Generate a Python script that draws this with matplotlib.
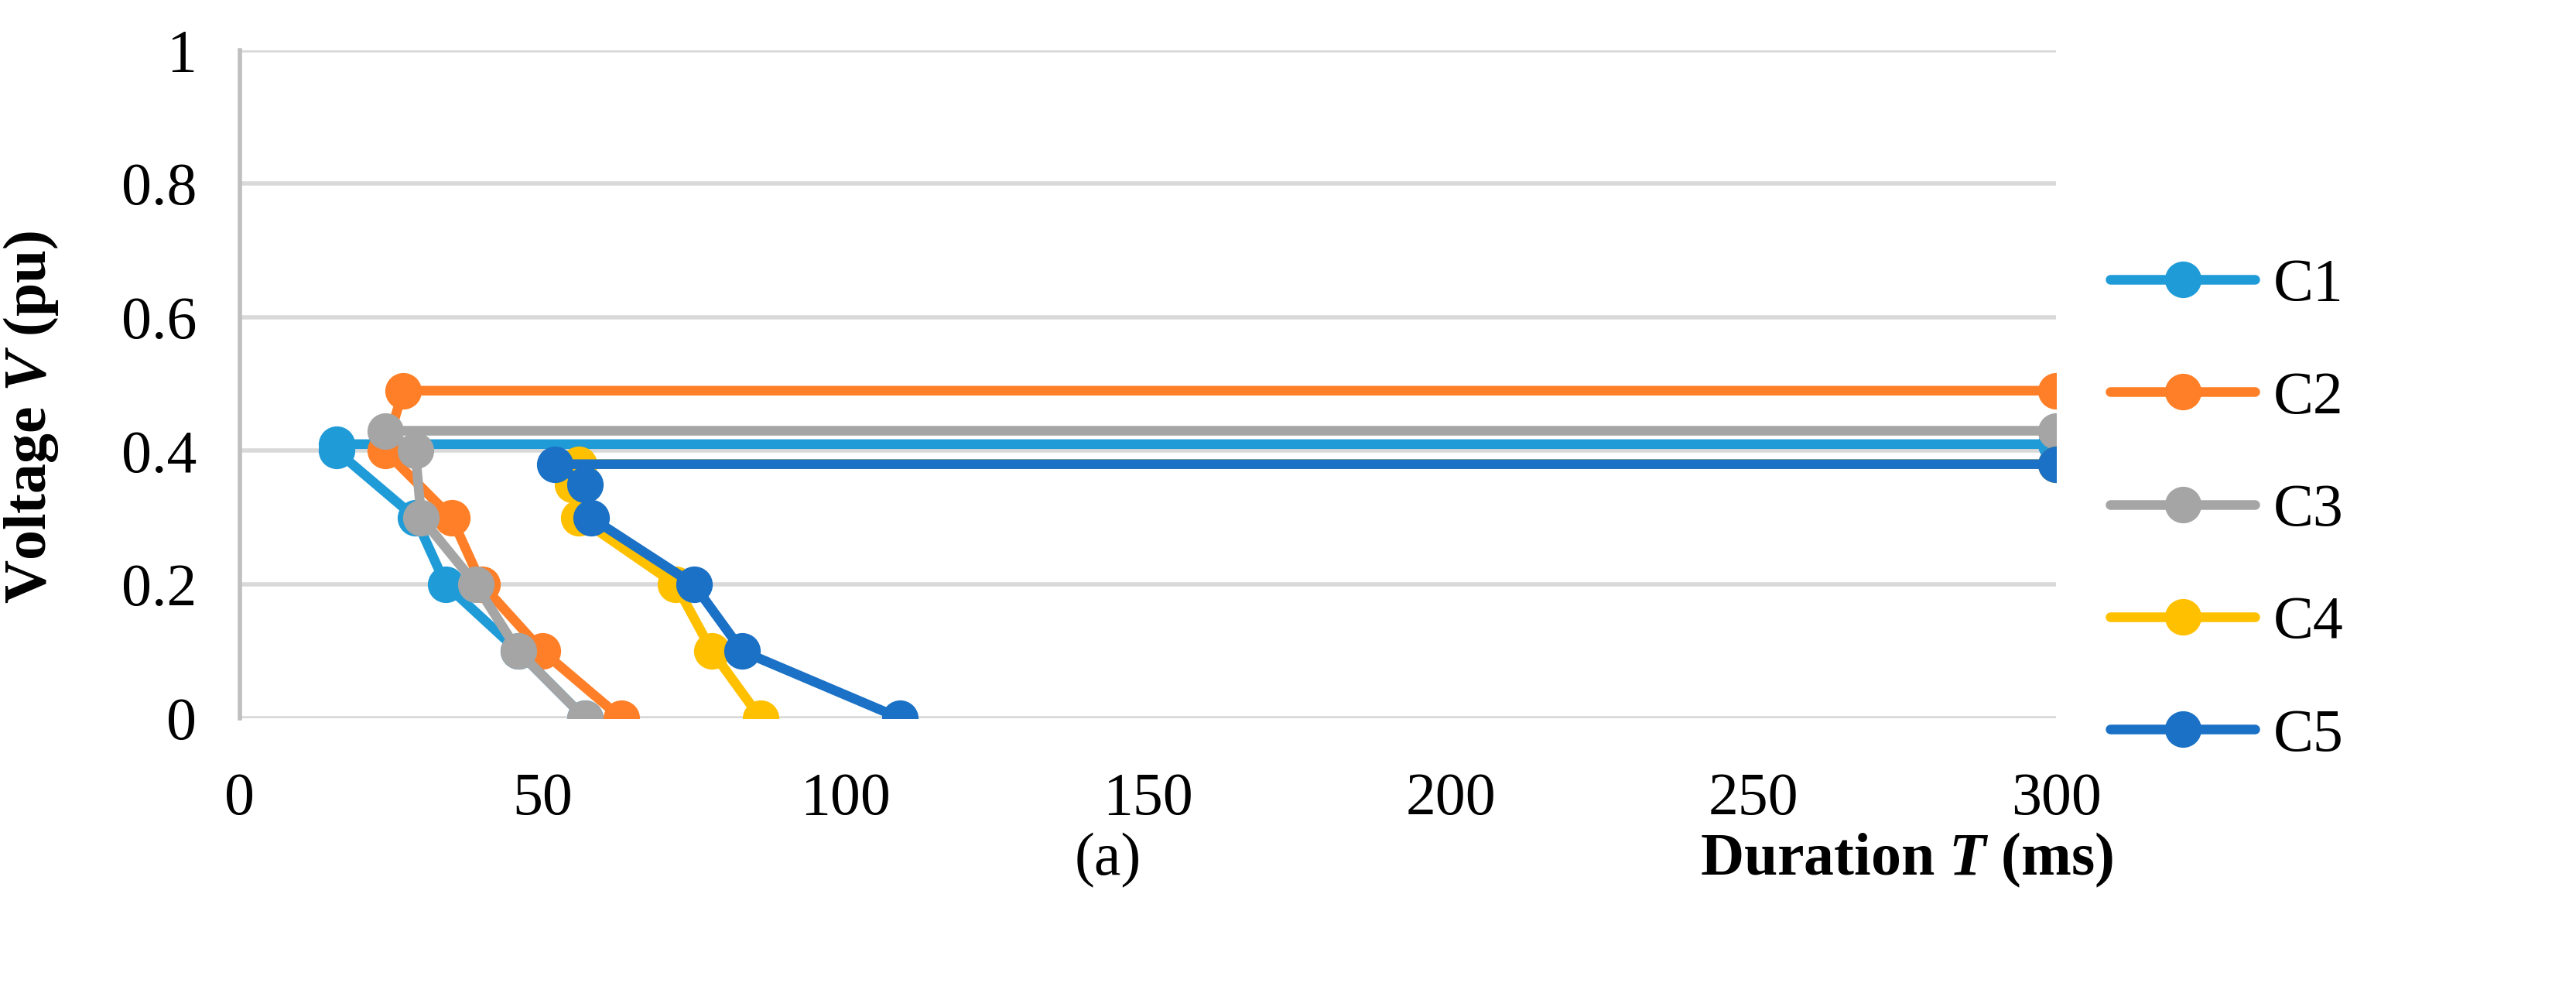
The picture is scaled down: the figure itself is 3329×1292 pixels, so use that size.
import matplotlib
matplotlib.use("Agg")
import matplotlib.pyplot as plt

names = ["C1", "C2", "C3", "C4", "C5"]
colors = ["#1f9bd7", "#fe7f27", "#a5a5a5", "#ffc000", "#1b71c6"]
c1_t = [57, 46, 34, 29, 16, 16, 300]; c1_v = [0, 0.1, 0.2, 0.3, 0.40, 0.41, 0.41]
c2_t = [63, 50, 40, 35, 24, 27, 300]; c2_v = [0, 0.1, 0.2, 0.3, 0.40, 0.49, 0.49]
c3_t = [57, 46, 39, 30, 29, 24, 300]; c3_v = [0, 0.1, 0.2, 0.3, 0.40, 0.43, 0.43]
c4_t = [86, 78, 72, 56, 55, 56, 300]; c4_v = [0, 0.1, 0.2, 0.3, 0.35, 0.38, 0.38]
c5_t = [109, 83, 75, 58, 57, 52, 300]; c5_v = [0, 0.1, 0.2, 0.3, 0.35, 0.38, 0.38]
series = [(c1_t, c1_v), (c2_t, c2_v), (c3_t, c3_v), (c4_t, c4_v), (c5_t, c5_v)]

plt.rcParams['font.family'] = ['Liberation Serif', 'DejaVu Serif']
plt.rcParams['mathtext.fontset'] = 'custom'
plt.rcParams['mathtext.rm'] = 'Liberation Serif'
plt.rcParams['mathtext.it'] = 'Liberation Serif:italic'
plt.rcParams['mathtext.bf'] = 'Liberation Serif:bold'
plt.rcParams['mathtext.bfit'] = 'Liberation Serif:italic:bold'

fig = plt.figure(figsize=(33.3, 12.92), dpi=100)
ax = fig.add_axes([0.093, 0.282, 0.705, 0.668])
for (t, v), c, n in zip(series, colors, names):
    ax.plot(t, v, color=c, lw=9, marker='o', ms=33, label=n, solid_capstyle='round')
ax.set_xlim(0, 300)
ax.set_ylim(0, 1)
ax.set_xticks([0, 50, 100, 150, 200, 250, 300])
ax.set_yticks([0, 0.2, 0.4, 0.6, 0.8, 1])
ax.set_yticklabels(["0", "0.2", "0.4", "0.6", "0.8", "1"])
ax.tick_params(axis='y', labelsize=56, length=0, pad=40)
ax.tick_params(axis='x', labelsize=56, length=0, pad=50)
ax.grid(axis='y', color='#d9d9d9', lw=4)
ax.set_axisbelow(True)
for s in ['top', 'right', 'bottom']:
    ax.spines[s].set_visible(False)
ax.spines['left'].set_color('#bfbfbf'); ax.spines['left'].set_linewidth(4)
ax.text(-0.115, 0.45, r"Voltage $\mathbfit{V}$ (pu)", transform=ax.transAxes, rotation=90,
        fontsize=56, fontweight='bold', ha='center', va='center')
fig.text(0.43, 0.125, "(a)", fontsize=56, ha='center')
fig.text(0.74, 0.125, r"Duration $\mathbfit{T}$ (ms)", fontsize=56, fontweight='bold', ha='center')
ax.legend(loc='center left', bbox_to_anchor=(1.0, 0.31), frameon=False, fontsize=56,
          handlelength=2.4, labelspacing=0.95, handletextpad=0.3)
fig.savefig("out.png", dpi=100)
